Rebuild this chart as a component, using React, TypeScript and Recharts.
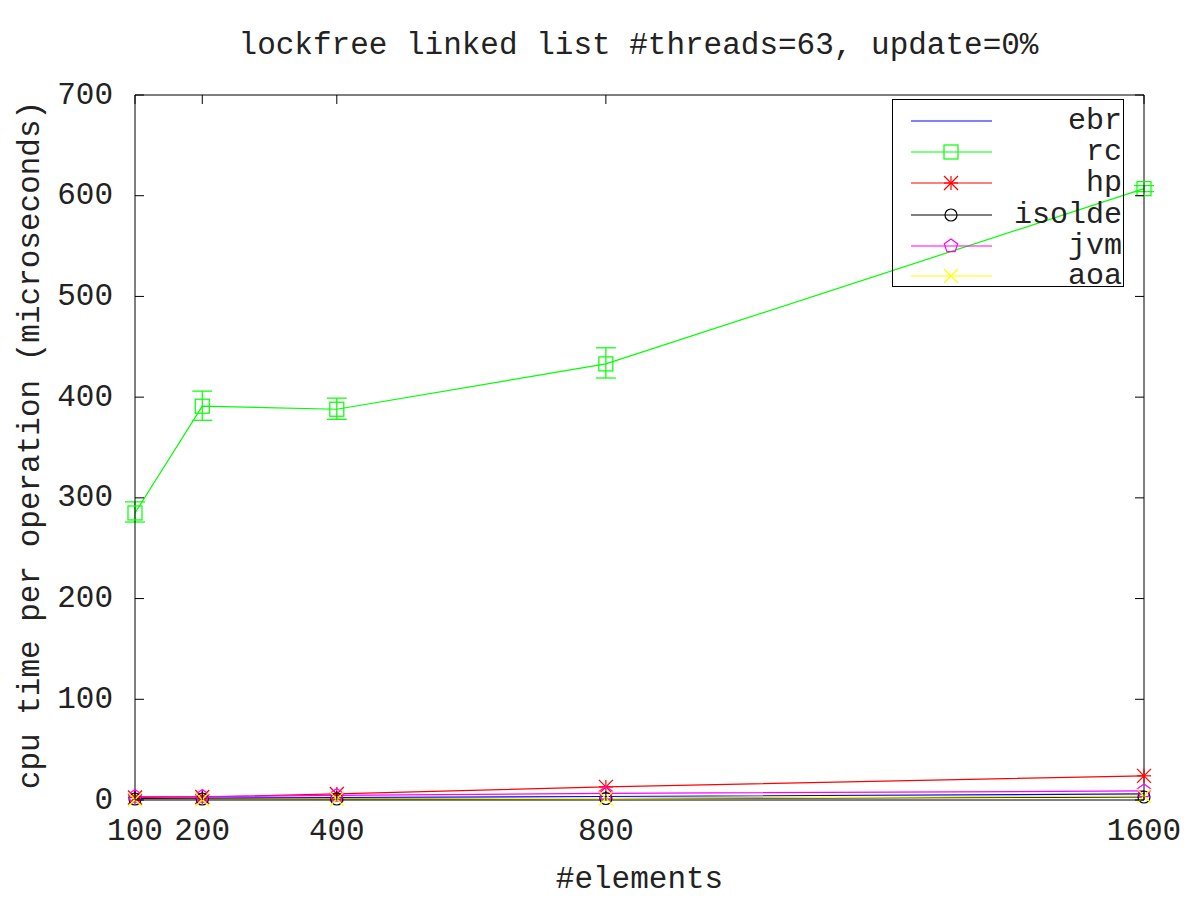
import React from "react";
import { LineChart, Line, XAxis, YAxis, ErrorBar } from "recharts";

const elements = [100, 200, 400, 800, 1600];
const ebr = [1.5, 2, 2.5, 3.5, 6];
const rc = [285, 391, 388, 433, 607];
const rcErrLow = [9, 14, 10, 14, 3];
const rcErrHigh = [11, 15, 11, 16, 3];
const hp = [2.5, 3, 6, 13, 24];
const isolde = [1, 1, 1, 1.5, 3];
const jvm = [3.5, 3.5, 4.5, 6.5, 9];
const aoa = [0.5, 0.5, 1, 1.5, 4];

const xTicks = [100, 200, 400, 800, 1600];
const yTicks = [0, 100, 200, 300, 400, 500, 600, 700];

const seriesNames = ["ebr", "rc", "hp", "isolde", "jvm", "aoa"];
const colors: Record<string, string> = {
  ebr: "#0000ff",
  rc: "#00ff00",
  hp: "#ff0000",
  isolde: "#000000",
  jvm: "#ff00ff",
  aoa: "#ffff00",
};

const data = elements.map((e, i) => ({
  n: e,
  ebr: ebr[i],
  rc: rc[i],
  rcErr: [rcErrLow[i], rcErrHigh[i]],
  hp: hp[i],
  isolde: isolde[i],
  jvm: jvm[i],
  aoa: aoa[i],
}));

const FONT = "'Liberation Mono', 'DejaVu Sans Mono', monospace";
const TXT = "#222";
const FS = 31;

function Marker({ kind, cx, cy, color }: { kind: string; cx: number; cy: number; color: string }) {
  if (cx == null || cy == null) return null;
  const s = 7;
  switch (kind) {
    case "rc":
      return <rect x={cx - s} y={cy - s} width={2 * s} height={2 * s} fill="none" stroke={color} strokeWidth={1.2} />;
    case "hp":
      return (
        <g stroke={color} strokeWidth={1.2}>
          <line x1={cx - s} y1={cy} x2={cx + s} y2={cy} />
          <line x1={cx} y1={cy - s} x2={cx} y2={cy + s} />
          <line x1={cx - s} y1={cy - s} x2={cx + s} y2={cy + s} />
          <line x1={cx - s} y1={cy + s} x2={cx + s} y2={cy - s} />
        </g>
      );
    case "isolde":
      return <circle cx={cx} cy={cy} r={6} fill="none" stroke={color} strokeWidth={1.2} />;
    case "jvm": {
      const pts = [0, 1, 2, 3, 4]
        .map((k) => {
          const a = -Math.PI / 2 + (k * 2 * Math.PI) / 5;
          return `${cx + 7 * Math.cos(a)},${cy + 7 * Math.sin(a)}`;
        })
        .join(" ");
      return <polygon points={pts} fill="none" stroke={color} strokeWidth={1.2} />;
    }
    case "aoa":
      return (
        <g stroke={color} strokeWidth={1.2}>
          <line x1={cx - s} y1={cy - s} x2={cx + s} y2={cy + s} />
          <line x1={cx - s} y1={cy + s} x2={cx + s} y2={cy - s} />
        </g>
      );
    default:
      return null;
  }
}

const makeDot = (kind: string) => (props: any) => (
  <Marker key={`${kind}-${props.index}`} kind={kind} cx={props.cx} cy={props.cy} color={colors[kind]} />
);

const BottomTick = (props: any) => {
  const { x, y, payload } = props;
  return (
    <g>
      <line x1={x} y1={y} x2={x} y2={y - 9} stroke="#000" />
      <text x={x} y={y + 31} textAnchor="middle" dominantBaseline="central" fontFamily={FONT} fontSize={FS} fill={TXT}>
        {payload.value}
      </text>
    </g>
  );
};
const TopTick = (props: any) => {
  const { x, y } = props;
  return <line x1={x} y1={y} x2={x} y2={y + 9} stroke="#000" />;
};
const LeftTick = (props: any) => {
  const { x, y, payload } = props;
  return (
    <g>
      <line x1={x} y1={y} x2={x + 9} y2={y} stroke="#000" />
      <text x={x - 22} y={y} textAnchor="end" dominantBaseline="central" fontFamily={FONT} fontSize={FS} fill={TXT}>
        {payload.value}
      </text>
    </g>
  );
};
const RightTick = (props: any) => {
  const { x, y } = props;
  return <line x1={x} y1={y} x2={x - 9} y2={y} stroke="#000" />;
};

const LegendBox = () => {
  const rowY = [22, 53, 84, 116, 147, 177];
  return (
    <svg width={233} height={190} style={{ display: "block" }}>
      <rect x={0.5} y={0.5} width={231} height={187} fill="none" stroke="#000" />
      {seriesNames.map((name, i) => (
        <g key={name}>
          <line x1={19} y1={rowY[i]} x2={100} y2={rowY[i]} stroke={colors[name]} strokeWidth={1.2} />
          <Marker kind={name} cx={59} cy={rowY[i]} color={colors[name]} />
          <text x={230} y={rowY[i]} textAnchor="end" dominantBaseline="central" fontFamily={FONT} fontSize={30} fill={TXT}>
            {name}
          </text>
        </g>
      ))}
    </svg>
  );
};

export default function App() {
  return (
    <div style={{ position: "absolute", left: 0, top: 0, width: 1200, height: 900, background: "#fff" }}>
      <LineChart width={1200} height={900} data={data} margin={{ top: 94, right: 55, bottom: 0, left: 0 }}>
        <XAxis
          dataKey="n"
          type="number"
          domain={[100, 1600]}
          ticks={xTicks}
          height={100}
          tickSize={0}
          tickMargin={0}
          tickLine={false}
          tick={<BottomTick />}
          axisLine={{ stroke: "#000" }}
          interval={0}
        />
        <XAxis
          xAxisId="top"
          orientation="top"
          dataKey="n"
          type="number"
          domain={[100, 1600]}
          ticks={xTicks}
          height={1}
          tickSize={0}
          tickMargin={0}
          tickLine={false}
          tick={<TopTick />}
          axisLine={{ stroke: "#000" }}
          interval={0}
        />
        <YAxis
          type="number"
          domain={[0, 700]}
          ticks={yTicks}
          width={135}
          tickSize={0}
          tickMargin={0}
          tickLine={false}
          tick={<LeftTick />}
          axisLine={{ stroke: "#000" }}
          interval={0}
        />
        <YAxis
          yAxisId="right"
          orientation="right"
          type="number"
          domain={[0, 700]}
          ticks={yTicks}
          width={1}
          tickSize={0}
          tickMargin={0}
          tickLine={false}
          tick={<RightTick />}
          axisLine={{ stroke: "#000" }}
          interval={0}
        />
        <Line
          xAxisId="top"
          yAxisId="right"
          dataKey="ebr"
          stroke="none"
          strokeWidth={0}
          dot={false}
          activeDot={false}
          legendType="none"
          isAnimationActive={false}
        />
        <Line dataKey="ebr" stroke={colors.ebr} strokeWidth={1.2} dot={false} isAnimationActive={false} />
        <Line dataKey="rc" stroke={colors.rc} strokeWidth={1.2} dot={makeDot("rc")} isAnimationActive={false}>
          <ErrorBar dataKey="rcErr" direction="y" width={10} stroke={colors.rc} strokeWidth={1.2} />
        </Line>
        <Line dataKey="hp" stroke={colors.hp} strokeWidth={1.2} dot={makeDot("hp")} isAnimationActive={false} />
        <Line dataKey="isolde" stroke={colors.isolde} strokeWidth={1.2} dot={makeDot("isolde")} isAnimationActive={false} />
        <Line dataKey="jvm" stroke={colors.jvm} strokeWidth={1.2} dot={makeDot("jvm")} isAnimationActive={false} />
        <Line dataKey="aoa" stroke={colors.aoa} strokeWidth={1.2} dot={makeDot("aoa")} isAnimationActive={false} />
      </LineChart>
      <div style={{ position: "absolute", left: 892, top: 99 }}>
        <LegendBox />
      </div>
      <div style={{ position: "absolute", left: 0, width: 1277, top: 28, textAlign: "center", fontFamily: FONT, fontSize: FS, color: TXT, whiteSpace: "pre" }}>
        lockfree linked list #threads=63, update=0%
      </div>
      <div style={{ position: "absolute", left: 0, width: 1279, top: 862, textAlign: "center", fontFamily: FONT, fontSize: FS, color: TXT }}>
        #elements
      </div>
      <div
        style={{
          position: "absolute",
          left: 30,
          top: 445,
          transform: "translate(-50%, -50%) rotate(-90deg)",
          fontFamily: FONT,
          fontSize: FS,
          color: TXT,
          whiteSpace: "nowrap",
        }}
      >
        cpu time per operation (microseconds)
      </div>
    </div>
  );
}
